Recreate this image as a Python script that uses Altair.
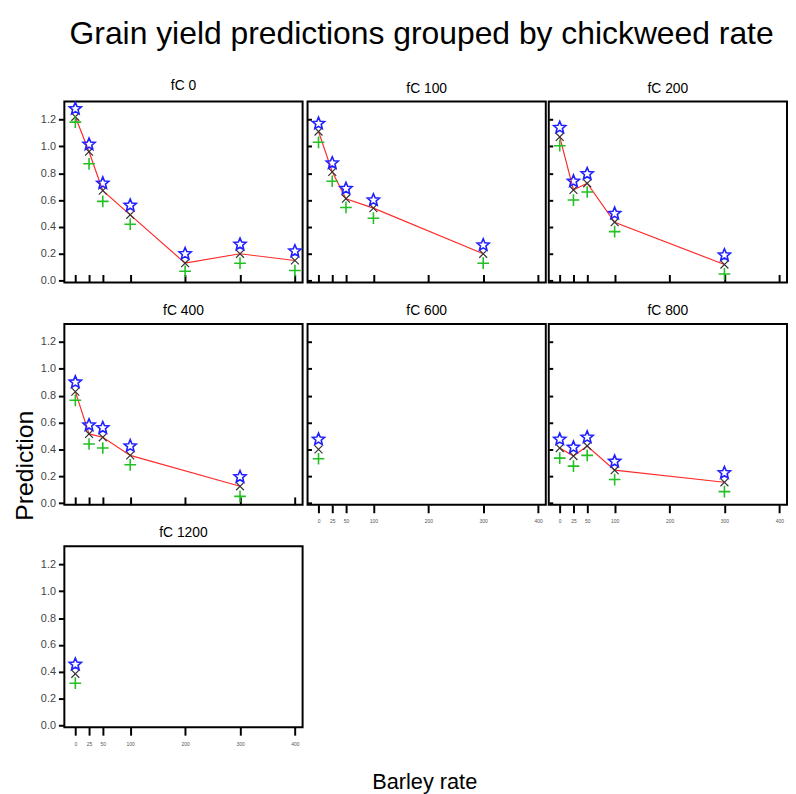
import altair as alt
import pandas as pd

# ---- data ----
fc_levels = [0, 100, 200, 400, 600, 800, 1200]

barley_fc0 = [0, 25, 50, 100, 200, 300, 400]
pred_fc0 = [1.22, 0.96, 0.67, 0.49, 0.13, 0.20, 0.15]
upper_fc0 = [1.28, 1.015, 0.725, 0.56, 0.20, 0.27, 0.22]
lower_fc0 = [1.18, 0.87, 0.59, 0.42, 0.07, 0.13, 0.075]

barley_fc100 = [0, 25, 50, 100, 300]
pred_fc100 = [1.11, 0.81, 0.61, 0.54, 0.20]
upper_fc100 = [1.17, 0.875, 0.685, 0.60, 0.265]
lower_fc100 = [1.03, 0.74, 0.545, 0.465, 0.13]

barley_fc200 = [0, 25, 50, 100, 300]
pred_fc200 = [1.07, 0.675, 0.725, 0.435, 0.12]
upper_fc200 = [1.14, 0.74, 0.795, 0.50, 0.19]
lower_fc200 = [1.005, 0.60, 0.66, 0.365, 0.05]

barley_fc400 = [0, 25, 50, 100, 300]
pred_fc400 = [0.83, 0.515, 0.49, 0.355, 0.125]
upper_fc400 = [0.90, 0.58, 0.56, 0.425, 0.195]
lower_fc400 = [0.765, 0.44, 0.41, 0.285, 0.05]

barley_fc600 = [0]
pred_fc600 = [0.40]
upper_fc600 = [0.475]
lower_fc600 = [0.33]

barley_fc800 = [0, 25, 50, 100, 300]
pred_fc800 = [0.41, 0.35, 0.425, 0.245, 0.155]
upper_fc800 = [0.475, 0.415, 0.49, 0.31, 0.225]
lower_fc800 = [0.335, 0.275, 0.355, 0.175, 0.085]

barley_fc1200 = [0]
pred_fc1200 = [0.385]
upper_fc1200 = [0.455]
lower_fc1200 = [0.315]

x_ticks = [0, 25, 50, 100, 200, 300, 400]
y_ticks = [0.0, 0.2, 0.4, 0.6, 0.8, 1.0, 1.2]

series = {
    0: (barley_fc0, pred_fc0, upper_fc0, lower_fc0),
    100: (barley_fc100, pred_fc100, upper_fc100, lower_fc100),
    200: (barley_fc200, pred_fc200, upper_fc200, lower_fc200),
    400: (barley_fc400, pred_fc400, upper_fc400, lower_fc400),
    600: (barley_fc600, pred_fc600, upper_fc600, lower_fc600),
    800: (barley_fc800, pred_fc800, upper_fc800, lower_fc800),
    1200: (barley_fc1200, pred_fc1200, upper_fc1200, lower_fc1200),
}

rows = []
for fc in fc_levels:
    b, p, u, l = series[fc]
    for i in range(len(b)):
        rows.append({"fC": fc, "barley": b[i], "pred": p[i], "upper": u[i], "lower": l[i]})
df = pd.DataFrame(rows)

FONT = "Liberation Sans"
W, H = 241, 183
STAR = ("M0,-1L0.265,-0.364L0.951,-0.309L0.428,0.139L0.588,0.809L0,0.45"
        "L-0.588,0.809L-0.428,0.139L-0.951,-0.309L-0.265,-0.364Z")
PLUS = "M-1,0L1,0M0,-1L0,1"
XSHAPE = "M-1,-1L1,1M-1,1L1,-1"

xscale = alt.Scale(domain=[-20, 414], nice=False, zero=False)
yscale = alt.Scale(domain=[-0.013, 1.334], nice=False, zero=False)


def panel(fc, col, bottom, ytitle=None):
    d = df[df["fC"] == fc]
    if bottom:
        xaxis = alt.Axis(values=x_ticks, tickSize=8, tickWidth=2, tickColor="black",
                         labelFontSize=5, labelColor="#555", labelPadding=6,
                         labelOverlap=False, labelFlush=False, domain=False, grid=False)
    else:
        xaxis = alt.Axis(values=x_ticks, offset=-8, tickSize=8, tickWidth=2, tickColor="black",
                         labelFontSize=5, labelOpacity=0, labelPadding=14,
                         labelOverlap=False, labelFlush=False, domain=False, grid=False)
    if col == 0:
        if ytitle:
            yaxis = alt.Axis(values=y_ticks, format=".1f", tickSize=6, tickWidth=2, tickColor="black",
                             labelFontSize=11, labelColor="#444", labelPadding=3,
                             domain=False, grid=False, titleFontSize=25, titleFontWeight="normal",
                             titleColor="black", titleY=143, titlePadding=3)
        else:
            yaxis = alt.Axis(values=y_ticks, format=".1f", tickSize=6, tickWidth=2, tickColor="black",
                             labelFontSize=11, labelColor="#444", labelPadding=3,
                             domain=False, grid=False)
    else:
        yaxis = alt.Axis(values=y_ticks, labels=False, offset=-4, tickSize=4, tickWidth=2,
                         tickColor="black", domain=False, grid=False)
    base = alt.Chart(d)

    def enc(field):
        return dict(
            x=alt.X("barley:Q", scale=xscale, axis=xaxis, title=None),
            y=alt.Y(f"{field}:Q", scale=yscale, axis=yaxis, title=ytitle),
        )

    line = base.mark_line(color="#ff2a2a", strokeWidth=1.2).encode(**enc("pred"))
    xm = base.mark_point(shape=XSHAPE, size=64, color="#333333", strokeWidth=1.2,
                         filled=False, opacity=1).encode(**enc("pred"))
    star = base.mark_point(shape=STAR, size=165, color="#1f1fff", strokeWidth=1.6,
                           filled=False, opacity=1).encode(**enc("upper"))
    plus = base.mark_point(shape=PLUS, size=140, color="#22c022", strokeWidth=1.6,
                           filled=False, opacity=1).encode(**enc("lower"))
    return alt.layer(line, xm, star, plus).properties(
        width=W, height=H,
        title=alt.TitleParams(f"fC {fc}", fontSize=14, fontWeight="normal", font=FONT,
                              color="black", anchor="middle", offset=6),
    )


blank = alt.Chart(pd.DataFrame({"v": [0]})).mark_point(opacity=0).encode(
    x=alt.X("v:Q", axis=None), y=alt.Y("v:Q", axis=None)
).properties(
    width=W, height=H,
    view=alt.ViewBackground(stroke="transparent"),
    title=alt.TitleParams("Barley rate", orient="bottom", fontSize=22, fontWeight="normal",
                          font=FONT, color="black", anchor="middle", offset=45, dx=-2),
)

panels = [
    panel(0, 0, False), panel(100, 1, False), panel(200, 2, False),
    panel(400, 0, False, ytitle="Prediction"), panel(600, 1, True), panel(800, 2, True),
    panel(1200, 0, True), blank,
]

chart = alt.concat(*panels, columns=3, spacing={"row": 1, "column": 0}).properties(
    align="each",
    title=alt.TitleParams("Grain yield predictions grouped by chickweed rate", fontSize=32.2,
                          fontWeight="normal", font=FONT, color="black", anchor="middle",
                          offset=28, dx=22),
    padding={"left": 3, "top": 5, "right": 0, "bottom": 0},
).configure_view(stroke="black", strokeWidth=2).configure_axis(
    labelFont=FONT, titleFont=FONT
)

chart.save("out.html", embed_options={"renderer": "svg", "actions": False})
